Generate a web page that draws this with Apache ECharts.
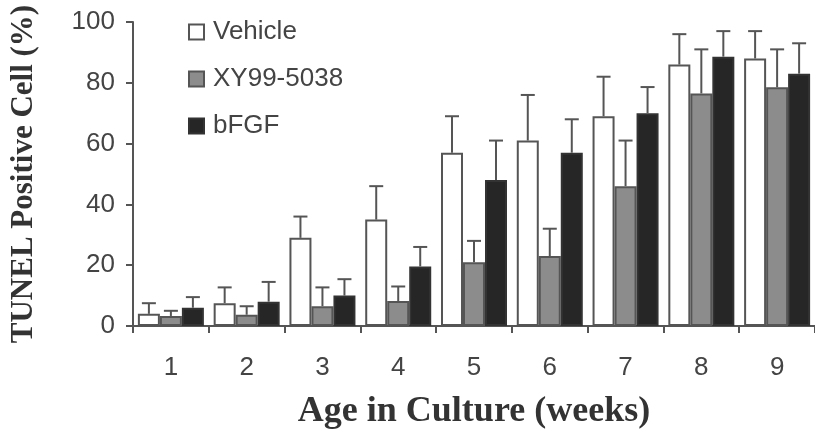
<!DOCTYPE html>
<html>
<head>
<meta charset="utf-8">
<script src="https://cdn.jsdelivr.net/npm/echarts@6/dist/echarts.min.js"></script>
<style>html,body{margin:0;padding:0;background:#fff;}#c{width:815px;height:435px;}</style>
</head>
<body>
<div id="c"></div>
<script>
const categories = ['1','2','3','4','5','6','7','8','9'];
const seriesNames = ['Vehicle','XY99-5038','bFGF'];
const vehicleMean = [4, 7.5, 29, 35, 57, 61, 69, 86, 88];
const vehicleSD   = [3.5, 5.2, 7, 11, 12, 15, 13, 10, 9];
const xyMean      = [3.3, 3.7, 6.5, 8.2, 21, 23, 46, 76.5, 78.5];
const xySD        = [1.7, 2.8, 6.2, 4.8, 7, 9, 15, 14.5, 12.5];
const bfgfMean    = [6, 8, 10, 19.6, 48, 57, 70, 88.6, 83];
const bfgfSD      = [3.5, 6.5, 5.4, 6.4, 13, 11, 8.6, 8.4, 10];
const yTicks = [0, 20, 40, 60, 80, 100];

const means = [vehicleMean, xyMean, bfgfMean];
const sds = [vehicleSD, xySD, bfgfSD];
const fills = ['#ffffff', '#8c8c8c', '#262626'];
const borders = ['#555555', '#555555', '#333333'];
const BAR_W = 22;

const chart = echarts.init(document.getElementById('c'));

function errRender(idx) {
  return function (params, api) {
    const x = api.value(0);
    const m = api.value(1);
    const s = api.value(2);
    const base = api.coord([x, m]);
    const hi = api.coord([x, m + s]);
    const cx = base[0] + (idx - 1) * BAR_W;
    const st = { stroke: '#555', lineWidth: 2 };
    return {
      type: 'group',
      children: [
        { type: 'line', shape: { x1: cx, y1: base[1], x2: cx, y2: hi[1] }, style: st },
        { type: 'line', shape: { x1: cx - 7, y1: hi[1], x2: cx + 7, y2: hi[1] }, style: st }
      ]
    };
  };
}

const series = [];
seriesNames.forEach((n, i) => {
  series.push({
    name: n,
    type: 'bar',
    data: means[i],
    barWidth: BAR_W,
    barGap: '0%',
    itemStyle: { color: fills[i], borderColor: borders[i], borderWidth: 2 },
    z: 2
  });
});
seriesNames.forEach((n, i) => {
  series.push({
    name: n + '_err',
    type: 'custom',
    renderItem: errRender(i),
    data: categories.map((c, k) => [k, means[i][k], sds[i][k]]),
    encode: { x: 0, y: 1 },
    z: 3,
    silent: true
  });
});

const sans = 'Liberation Sans, Arial, sans-serif';
const serif = 'Liberation Serif, Times New Roman, serif';

chart.setOption({
  animation: false,
  backgroundColor: '#ffffff',
  grid: { left: 127, right: -3, top: 22, bottom: 107, containLabel: false },
  legend: {
    data: seriesNames,
    orient: 'vertical',
    left: 183,
    top: 14,
    itemWidth: 15,
    itemHeight: 15,
    itemGap: 21,
    icon: 'rect',
    textStyle: { fontFamily: sans, fontSize: 26, color: '#444', padding: [0, 0, 0, 4] }
  },
  xAxis: {
    type: 'category',
    data: categories,
    name: 'Age in Culture (weeks)',
    nameLocation: 'middle',
    nameGap: 68,
    nameTextStyle: { fontFamily: serif, fontWeight: 'bold', fontSize: 36, color: '#333' },
    axisLine: { show: true, lineStyle: { color: '#555', width: 2 } },
    axisTick: { show: true, length: 7, lineStyle: { color: '#555', width: 2 } },
    axisLabel: { margin: 29, fontFamily: sans, fontSize: 26, color: '#444' }
  },
  yAxis: {
    type: 'value',
    min: 0,
    max: 100,
    interval: 20,
    name: 'TUNEL Positive Cell (%)',
    nameLocation: 'middle',
    nameGap: 94,
    nameTextStyle: { fontFamily: serif, fontWeight: 'bold', fontSize: 31, color: '#333' },
    axisLine: { show: true, lineStyle: { color: '#555', width: 2 } },
    axisTick: { show: true, length: 7, lineStyle: { color: '#555', width: 2 } },
    splitLine: { show: false },
    axisLabel: {
      margin: 18,
      fontFamily: sans, fontSize: 26, color: '#444',
      formatter: v => yTicks.includes(v) ? String(v) : ''
    }
  },
  series: series
});
</script>
</body>
</html>
